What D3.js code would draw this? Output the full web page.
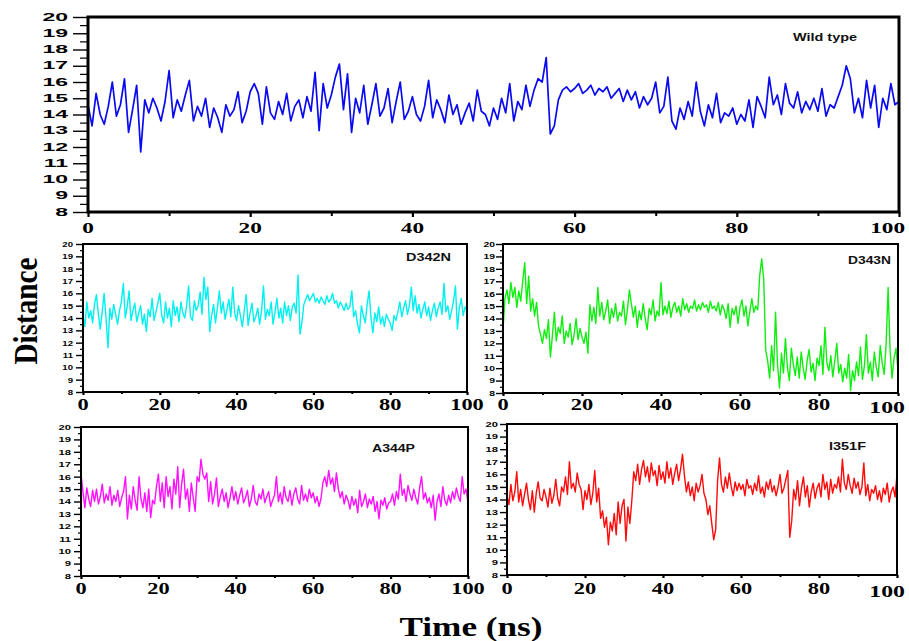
<!DOCTYPE html>
<html>
<head>
<meta charset="utf-8">
<script src="https://cdn.jsdelivr.net/npm/d3@7"></script>
<style>
  body { margin: 0; background: #fff; }
  svg { display: block; }
  .ylab { font-family: "Liberation Sans", Arial, sans-serif; font-weight: bold; fill: #000; }
  .xlab { font-family: "Liberation Serif", "Times New Roman", serif; font-weight: bold; fill: #000; }
  .tag  { font-family: "Liberation Sans", Arial, sans-serif; font-weight: bold; fill: #111; }
  .title { font-family: "Liberation Serif", "Times New Roman", serif; font-weight: bold; fill: #000; }
</style>
</head>
<body>
<svg id="chart" width="909" height="641"></svg>
<script>
const timeStep = 0.5;

const wildType = [
  14.6, 13.3, 15.3, 14.0, 13.4, 14.5, 16.0, 13.9, 14.6, 16.2, 12.9, 14.3, 15.8, 11.7, 14.9, 14.1, 15.0, 14.4, 13.6, 14.8,
  16.7, 13.8, 14.9, 14.2, 15.2, 16.1, 13.6, 14.5, 13.9, 15.0, 13.2, 14.4, 13.8, 12.9, 14.6, 13.9, 14.3, 15.4, 13.5, 14.2,
  15.4, 15.9, 15.3, 13.4, 15.7, 14.1, 13.7, 14.8, 14.0, 15.3, 13.6, 14.5, 14.9, 13.8, 15.1, 14.2, 16.6, 13.0, 15.9, 14.4,
  15.2, 16.3, 17.1, 14.3, 16.5, 12.9, 15.0, 14.1, 15.8, 13.4, 14.6, 15.9, 13.9, 14.4, 15.6, 13.5, 14.8, 16.0, 13.7, 14.2,
  15.1, 14.0, 13.6, 14.5, 16.1, 13.8, 14.9, 14.3, 13.5, 15.2, 14.0, 14.6, 13.4, 14.1, 14.7, 13.6, 15.5, 14.2, 14.0, 13.3,
  14.4, 13.7, 15.0, 14.1, 15.9, 13.6, 14.8, 14.3, 15.8, 14.5, 15.5, 16.2, 16.0, 17.5, 12.8, 13.3, 14.9, 15.5, 15.7, 15.4,
  15.6, 15.9, 15.3, 15.5, 15.8, 15.2, 15.6, 15.4, 15.7, 15.0, 15.3, 15.6, 14.8, 15.5, 14.9, 15.4, 14.4, 15.1, 14.6, 15.0,
  16.0, 14.1, 14.5, 16.3, 13.6, 13.1, 14.4, 13.7, 14.8, 13.9, 16.0, 14.2, 13.3, 14.6, 13.8, 15.3, 13.5, 14.1, 13.9, 14.4,
  13.4, 14.0, 13.6, 14.9, 13.2, 15.1, 14.5, 13.8, 16.3, 14.6, 15.2, 14.0, 15.9, 14.7, 14.4, 15.4, 14.1, 14.8, 14.3, 15.0,
  14.2, 15.6, 13.9, 14.6, 14.4, 15.1, 15.8, 17.0, 16.2, 14.1, 15.0, 13.8, 16.1, 14.4, 15.8, 13.2, 15.0, 14.3, 15.9, 14.6,
  14.8
];

const d342n = [
  14.2, 13.3, 15.3, 14.0, 14.6, 13.6, 15.1, 15.9, 14.3, 13.1, 14.5, 16.0, 14.0, 11.6, 14.8, 13.9, 15.1, 14.3, 13.5, 14.6,
  15.3, 16.8, 14.0, 14.9, 16.2, 13.8, 14.6, 15.2, 13.7, 14.4, 15.0, 13.5, 14.3, 12.9, 14.7, 14.1, 15.6, 13.8, 14.5, 15.2,
  16.0, 14.2, 13.6, 15.3, 14.0, 14.8, 13.3, 15.4, 14.2, 14.9, 13.7, 15.3, 14.4, 14.0, 15.0, 16.6, 14.1, 13.8, 15.4, 14.6,
  15.0, 16.1, 14.3, 17.3, 15.5, 16.5, 12.9, 14.2, 15.1, 13.6, 14.8, 16.2, 14.4, 15.3, 13.9, 14.7, 15.5, 14.1, 16.5, 14.4,
  13.8, 15.0, 14.2, 13.3, 14.6, 15.9, 13.4, 14.4, 15.2, 13.7, 14.1, 14.8, 13.5, 14.6, 16.6, 13.9, 14.7, 14.2, 15.3, 13.5,
  14.5, 15.6, 14.0, 14.8, 13.6, 15.3, 14.2, 15.0, 13.8, 14.9, 15.2, 14.4, 17.5, 12.7, 13.6, 15.1, 15.5, 15.9, 15.4, 15.7,
  16.0, 15.3, 15.6, 15.2, 15.7, 15.4, 15.1, 15.8, 15.3, 15.5, 16.0, 15.2, 15.4, 14.8, 15.3, 15.0, 14.6, 15.2, 14.7, 14.9,
  16.2, 14.1, 14.6, 13.5, 12.8, 15.0, 14.2, 13.6, 15.1, 16.2, 14.0, 12.8, 14.4, 13.7, 14.9, 13.5, 14.1, 13.3, 14.3, 13.9,
  13.6, 13.0, 14.2, 13.8, 14.5, 15.3, 14.1, 14.8, 15.4, 14.3, 15.0, 16.5, 14.6, 15.8, 14.4, 15.1, 14.0, 14.7, 15.3, 14.2,
  14.9, 13.8, 14.6, 15.2, 14.1, 14.8, 15.3, 14.3, 16.8, 14.5, 15.0, 13.9, 14.6, 15.4, 16.6, 13.1, 14.8, 15.6, 14.2, 14.9,
  14.6
];

const d343n = [
  13.1, 15.6, 16.3, 15.2, 16.9, 15.7, 16.5, 14.9, 16.2, 15.4, 17.0, 18.5, 15.2, 17.4, 14.6, 15.6, 14.2, 15.3, 13.4, 12.7,
  12.0, 13.1, 12.4, 13.9, 10.9, 12.6, 14.5, 12.2, 13.3, 12.8, 14.2, 12.0, 13.0, 12.5, 13.6, 11.9, 12.7, 14.0, 12.3, 13.2,
  12.5, 12.0, 12.9, 11.2, 15.1, 13.8, 14.9, 13.6, 16.5, 14.2, 15.3, 13.9, 14.6, 15.5, 13.6, 14.8, 14.1, 15.2, 13.8, 14.5,
  14.2, 15.4, 13.5, 14.7, 16.3, 15.2, 14.1, 15.0, 13.3, 14.6, 13.9, 15.2, 14.0, 13.1, 14.8, 14.3, 15.5, 13.8, 14.6, 14.2,
  16.9, 14.3, 15.0, 14.4, 15.4, 14.1, 14.9, 15.3, 14.5, 15.0, 14.2, 15.6, 14.7, 15.2, 14.5, 15.0, 14.8, 15.5, 14.6, 15.1,
  14.7, 15.3, 14.9, 15.1, 14.5, 15.4, 14.8, 15.0, 14.6, 15.3, 14.3, 15.1, 14.7, 14.0, 15.2, 13.3, 14.8, 14.3, 15.0, 13.6,
  14.9, 15.5, 14.2, 15.0, 13.4, 14.6, 15.6, 14.5, 15.0, 14.7, 17.5, 18.8, 17.2, 11.5, 10.6, 9.2, 11.8, 9.8, 14.5, 10.3,
  8.4, 11.2, 9.6, 12.4, 10.1, 9.0, 11.6, 10.3, 9.4, 10.9, 9.2, 11.3, 10.0, 9.1, 10.6, 11.5, 9.7, 10.4, 9.0, 10.8,
  10.2, 11.8, 9.5, 13.3, 10.4, 9.8, 11.0, 9.3, 10.6, 12.0, 9.6, 10.3, 8.9, 10.0, 9.2, 11.1, 8.2, 9.8, 9.0, 10.5,
  9.4, 11.7, 9.1, 10.2, 12.7, 9.6, 10.5, 9.0, 11.3, 10.1, 9.3, 11.8, 10.4, 9.5, 12.0, 16.5, 11.4, 9.2, 10.8, 11.6,
  9.8
];

const a344p = [
  16.2, 14.8, 13.5, 15.1, 14.2, 13.6, 14.9, 14.0, 15.0, 13.8, 14.4, 15.4, 13.9, 14.6, 14.1, 15.2, 13.7, 14.5, 14.0, 14.9,
  13.6, 14.3, 14.8, 16.0, 12.6, 14.5, 13.4, 15.2, 14.1, 13.3, 16.0, 14.2, 13.5, 14.7, 13.2, 15.0, 12.7, 14.1, 13.8, 15.2,
  16.2, 14.0, 15.5, 13.5, 16.0, 14.4, 15.2, 13.4, 15.8, 14.6, 16.8, 13.5, 15.4, 16.6, 14.2, 15.0, 13.2, 15.5, 14.3, 13.2,
  16.0, 15.6, 17.4, 16.2, 15.8, 16.3, 14.0, 15.6, 13.8, 14.6, 15.9, 13.6, 14.4, 15.0, 14.0, 14.7, 13.5, 14.3, 15.2, 14.1,
  14.8, 13.8, 14.5, 15.1, 13.9, 14.3, 14.9, 13.6, 14.2, 15.3, 14.0, 13.7, 14.6, 14.2, 15.0, 13.9, 14.4, 14.8, 13.6, 14.1,
  14.5, 16.0, 14.0, 14.7, 13.8, 15.2, 14.3, 14.0, 14.9, 13.7, 14.6, 15.1, 14.2, 13.8, 15.3, 14.1, 14.6, 14.0, 15.0, 14.3,
  14.7, 13.9, 14.4, 13.6, 14.2, 15.5, 16.0, 15.2, 16.5, 15.4, 15.9, 14.8, 16.3, 15.0, 14.3, 14.8, 13.8, 14.5, 14.1, 13.4,
  14.4, 13.7, 14.2, 13.1, 14.9, 13.6, 14.0, 14.6, 13.5, 14.2, 13.8, 14.4, 13.2, 14.0, 12.6, 14.1, 13.7, 14.3, 13.4, 13.9,
  14.0, 14.6, 13.7, 14.8, 14.2, 16.2, 14.5, 15.0, 14.0, 15.3, 14.6, 14.1, 15.0, 14.3, 13.8, 15.1, 16.0, 14.2, 14.7, 13.9,
  14.3, 13.5, 14.5, 12.5, 14.0, 14.6, 13.6, 15.2, 14.1, 13.7, 14.5, 13.9, 14.8, 14.2, 15.1, 14.4, 14.0, 16.0, 14.6, 15.0,
  13.9
];

const i351f = [
  14.3, 13.6, 15.2, 13.9, 14.6, 16.2, 13.8, 14.8, 13.5, 14.4, 15.3, 14.0, 13.2, 14.7, 13.0, 14.5, 15.4, 14.1, 13.9, 14.8,
  14.2, 13.4, 14.9, 13.7, 14.3, 15.6, 14.1, 13.5, 15.0, 14.6, 15.8, 14.4, 17.0, 14.9, 15.3, 14.6, 16.1, 15.2, 14.8, 13.2,
  14.7, 14.0, 15.2, 13.6, 14.5, 16.3, 13.8, 14.9, 12.5, 13.1, 11.8, 12.6, 10.4, 12.2, 11.5, 12.9, 11.2, 13.8, 12.1, 13.5,
  14.0, 10.7, 13.4, 12.1, 13.9, 16.2, 15.5, 16.8, 15.2, 16.4, 17.1, 15.8, 16.6, 15.4, 16.9, 15.9, 16.3, 15.1, 16.7, 15.6,
  16.2, 15.3, 17.0, 15.7, 16.5, 15.2, 16.1, 16.8, 15.5, 16.4, 17.6, 15.9, 14.6, 15.4, 14.3, 15.0, 13.9, 15.3, 14.6, 15.1,
  16.0, 14.5, 14.0, 12.8, 13.5, 12.1, 10.8, 11.6, 15.5, 17.3, 15.2, 14.6, 15.8, 14.9, 16.1, 15.0, 14.3, 15.4, 14.7, 15.3,
  14.8, 15.2, 14.3, 15.6, 14.9, 15.1, 14.4, 15.3, 14.7, 15.9, 14.5, 15.0, 14.2, 15.4, 14.8, 15.6, 14.6, 15.1, 14.3, 15.0,
  16.0, 14.5, 14.9, 15.6, 16.3, 11.0, 12.3, 14.8, 14.0, 15.5, 13.5, 14.9, 15.8, 14.2, 15.1, 13.4, 14.6, 15.3, 14.1, 14.9,
  15.3, 14.2, 16.0, 14.8, 15.4, 14.0, 15.6, 14.5, 15.2, 14.9, 15.8, 14.6, 17.2, 15.3, 14.8, 16.0, 15.1, 14.5, 15.7, 14.9,
  15.4, 14.4, 15.0, 16.9, 14.3, 15.2, 13.9, 14.8, 14.5, 15.1, 14.0, 14.7, 13.8, 14.9, 14.4, 15.3, 13.8, 14.6, 15.0, 14.2,
  16.0
];

const yTicks = d3.range(8, 21);          // 8 .. 20
const xTicks = [0, 20, 40, 60, 80, 100];
const xMinor = [10, 30, 50, 70, 90];

// layout per panel (plot box in px, label sizes)
const panels = [
  { name: 'Wild type', values: wildType, color: '#0a0af0', lw: 1.7,
    left: 88, right: 899, top: 17, bottom: 212, axisW: 3, rightCol: true,
    yFont: 10, ySx: 2.3, yLabRight: 68, yMajor: 15, yMinor: 8,
    xFont: 15, xSx: 1.55, xBase: 233, xTick: 5,
    tag: [793, 41, 64, 11] },
  { name: 'D342N', values: d342n, color: '#00f0f0', lw: 1.4,
    left: 83, right: 467, top: 244, bottom: 392, axisW: 2, rightCol: false,
    yFont: 8, ySx: 1.2, yLabRight: 73, yMajor: 7, yMinor: 3,
    xFont: 16, xSx: 1.4, xBase: 410, xTick: 3,
    tag: [406, 261, 45, 10] },
  { name: 'D343N', values: d343n, color: '#10ee10', lw: 1.4,
    left: 503, right: 898, top: 244, bottom: 393, axisW: 2, rightCol: true,
    yFont: 8, ySx: 1.3, yLabRight: 495, yMajor: 7, yMinor: 3,
    xFont: 16, xSx: 1.4, xBase: 410, xTick: 3,
    tag: [848, 264, 43, 10] },
  { name: 'A344P', values: a344p, color: '#ff10ff', lw: 1.4,
    left: 81, right: 468, top: 427, bottom: 576, axisW: 2, rightCol: false,
    yFont: 8, ySx: 1.4, yLabRight: 71, yMajor: 7, yMinor: 3,
    xFont: 16, xSx: 1.4, xBase: 594, xTick: 3,
    tag: [372, 452, 43, 10] },
  { name: 'I351F', values: i351f, color: '#ff0a0a', lw: 1.4,
    left: 507, right: 897, top: 424, bottom: 575, axisW: 2, rightCol: true,
    yFont: 8, ySx: 1.4, yLabRight: 498, yMajor: 7, yMinor: 3,
    xFont: 16, xSx: 1.4, xBase: 594, xTick: 3,
    tag: [829, 450, 37, 10] }
];

const svg = d3.select('#chart');

panels.forEach((p, k) => {
  const x = d3.scaleLinear().domain([0, 100]).range([p.left, p.right]);
  const y = d3.scaleLinear().domain([8, 20]).range([p.bottom, p.top]);
  const g = svg.append('g').attr('class', 'panel');

  // clip for the trace
  const clipId = `clip-${k}`;
  svg.append('clipPath').attr('id', clipId)
    .append('rect')
      .attr('x', p.left).attr('y', p.top)
      .attr('width', p.right - p.left).attr('height', p.bottom - p.top);

  const line = d3.line()
    .x((d, i) => x(i * timeStep))
    .y(d => y(d));

  g.append('path')
    .datum(p.values)
    .attr('clip-path', `url(#${clipId})`)
    .attr('fill', 'none')
    .attr('stroke', p.color)
    .attr('stroke-width', p.lw)
    .attr('stroke-linejoin', 'round')
    .attr('d', line);

  // y axis: major ticks at integers, minor at halves
  const yAx = g.append('g')
    .attr('transform', `translate(${p.left},0)`)
    .call(d3.axisLeft(y).tickValues(yTicks).tickSize(p.yMajor).tickSizeOuter(0).tickFormat(''));
  yAx.select('.domain').remove();
  yAx.selectAll('line').attr('stroke', '#000').attr('stroke-width', 1.4);
  g.append('g')
    .attr('transform', `translate(${p.left},0)`)
    .call(d3.axisLeft(y).tickValues(d3.range(8.5, 20, 1)).tickSize(p.yMinor).tickFormat(''))
    .call(a => a.select('.domain').remove())
    .selectAll('line').attr('stroke', '#000').attr('stroke-width', 1.2);

  // x axis ticks
  const xAx = g.append('g')
    .attr('transform', `translate(0,${p.bottom})`)
    .call(d3.axisBottom(x).tickValues(xTicks).tickSize(p.xTick).tickSizeOuter(0).tickFormat(''));
  xAx.select('.domain').remove();
  xAx.selectAll('line').attr('stroke', '#000').attr('stroke-width', 2.2);
  g.append('g')
    .attr('transform', `translate(0,${p.bottom})`)
    .call(d3.axisBottom(x).tickValues(xMinor).tickSize(p.xTick - 1).tickFormat(''))
    .call(a => a.select('.domain').remove())
    .selectAll('line').attr('stroke', '#000').attr('stroke-width', 2);

  // frame
  g.append('rect')
    .attr('x', p.left).attr('y', p.top)
    .attr('width', p.right - p.left).attr('height', p.bottom - p.top)
    .attr('fill', 'none').attr('stroke', '#000').attr('stroke-width', p.axisW);

  // y tick labels (stretched like the source image)
  g.selectAll('.ylab').data(yTicks).join('text')
    .attr('class', 'ylab')
    .attr('text-anchor', 'end')
    .attr('dy', '0.36em')
    .style('font-size', `${p.yFont}px`)
    .attr('transform', d => `translate(${p.yLabRight},${y(d)}) scale(${p.ySx},1)`)
    .text(d => d);

  // x tick labels; "100" in the right column is pulled in so it ends at the page edge
  g.selectAll('.xlab').data(xTicks).join('text')
    .attr('class', 'xlab')
    .attr('text-anchor', d => (d === 100 && p.rightCol) ? 'end' : 'middle')
    .style('font-size', d => `${d === 100 && k > 1 && p.rightCol ? p.xFont + 1 : p.xFont}px`)
    .attr('transform', d => {
      const big = d === 100 && p.rightCol;
      const tx = big ? 905 : x(d);
      const ty = p.xBase + (big && k > 0 ? 3 : 0);
      return `translate(${tx},${ty}) scale(${p.xSx},1)`;
    })
    .text(d => d);

  // panel tag
  g.append('text')
    .attr('class', 'tag')
    .attr('x', p.tag[0]).attr('y', p.tag[1])
    .attr('textLength', p.tag[2])
    .attr('lengthAdjust', 'spacingAndGlyphs')
    .style('font-size', `${p.tag[3]}px`)
    .text(p.name);
});

// shared axis titles
svg.append('text')
  .attr('class', 'title')
  .attr('text-anchor', 'middle')
  .attr('transform', 'translate(37,311) rotate(-90)')
  .attr('textLength', 107)
  .attr('lengthAdjust', 'spacingAndGlyphs')
  .style('font-size', '33px')
  .text('Distance');

svg.append('text')
  .attr('class', 'title')
  .attr('text-anchor', 'middle')
  .attr('x', 471).attr('y', 636)
  .attr('textLength', 143)
  .attr('lengthAdjust', 'spacingAndGlyphs')
  .style('font-size', '27px')
  .text('Time (ns)');
</script>
</body>
</html>
